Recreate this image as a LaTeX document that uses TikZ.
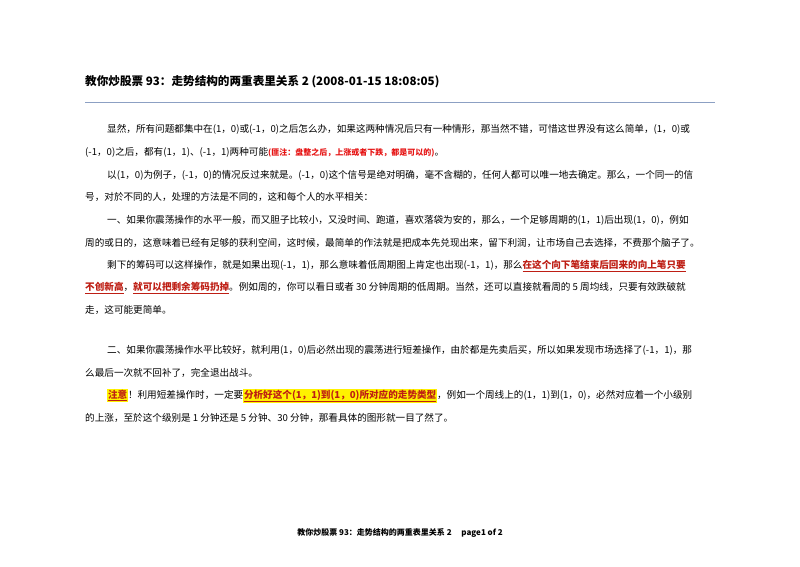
\documentclass[tikz,border=0pt]{standalone}
\usepackage{fontspec}
\setmainfont{Liberation Sans}
\newfontfamily\cjk{Noto Sans CJK SC}
\definecolor{rulec}{RGB}{140,160,195}
\definecolor{noter}{RGB}{230,20,20}
\definecolor{hlr}{RGB}{190,30,20}
\begin{document}
\begin{tikzpicture}[x=1pt,y=-1pt,
  ln/.style={anchor=west,inner sep=0pt,font=\cjk\fontsize{9.6}{11}\selectfont},
  rd/.style={font=\cjk\bfseries\fontsize{8}{10}\selectfont,text=noter}]
\newcommand{\ru}[1]{\textcolor{hlr}{\bfseries\underline{#1}}}
\newcommand{\hl}[1]{{\setlength{\fboxsep}{0.8pt}\colorbox{yellow}{\textcolor{hlr}{\bfseries\underline{#1}}}}}
\useasboundingbox (0,0) rectangle (800,566);
\fill[white] (0,0) rectangle (800,566);
\node[ln,font=\cjk\bfseries\fontsize{11.6}{13}\selectfont] (title) at (85,82) {教你炒股票 93：走势结构的两重表里关系 2 (2008-01-15 18:08:05)};
\coordinate (r1) at (85,102); \coordinate (r2) at (715,102);
\draw[rulec,line width=1pt] (r1) -- (r2);
\node[ln] (l1) at (107,129) {显然，所有问题都集中在(1，0)或(-1，0)之后怎么办，如果这两种情况后只有一种情形，那当然不错，可惜这世界没有这么简单，(1，0)或};
\node[ln] (l2) at (85,152) {(-1，0)之后，都有(1，1)、(-1，1)两种可能{\color{noter}\bfseries\fontsize{8}{10}\selectfont(匪注：盘整之后，上涨或者下跌，都是可以的)}。};
\node[ln] (l3) at (107,175) {以(1，0)为例子，(-1，0)的情况反过来就是。(-1，0)这个信号是绝对明确，毫不含糊的，任何人都可以唯一地去确定。那么，一个同一的信};
\node[ln] (l4) at (85,197) {号，对於不同的人，处理的方法是不同的，这和每个人的水平相关：};
\node[ln] (l5) at (107,220) {一、如果你震荡操作的水平一般，而又胆子比较小，又没时间、跑道，喜欢落袋为安的，那么，一个足够周期的(1，1)后出现(1，0)，例如};
\node[ln] (l6) at (85,243) {周的或日的，这意味着已经有足够的获利空间，这时候，最简单的作法就是把成本先兑现出来，留下利润，让市场自己去选择，不费那个脑子了。};
\node[ln] (l7) at (107,266) {剩下的筹码可以这样操作，就是如果出现(-1，1)，那么意味着低周期图上肯定也出现(-1，1)，那么\ru{在这个向下笔结束后回来的向上笔只要}};
\node[ln] (l8) at (85,288) {\ru{不创新高}，\ru{就可以把剩余筹码扔掉}。例如周的，你可以看日或者 30 分钟周期的低周期。当然，还可以直接就看周的 5 周均线，只要有效跌破就};
\node[ln] (l9) at (85,310) {走，这可能更简单。};
\node[ln] (l10) at (107,350) {二、如果你震荡操作水平比较好，就利用(1，0)后必然出现的震荡进行短差操作，由於都是先卖后买，所以如果发现市场选择了(-1，1)，那};
\node[ln] (l11) at (85,373) {么最后一次就不回补了，完全退出战斗。};
\node[ln] (l12) at (107,396) {\hl{注意}！利用短差操作时，一定要\hl{分析好这个(1，1)到(1，0)所对应的走势类型}，例如一个周线上的(1，1)到(1，0)，必然对应着一个小级别};
\node[ln] (l13) at (85,418) {的上涨，至於这个级别是 1 分钟还是 5 分钟、30 分钟，那看具体的图形就一目了然了。};
\node[anchor=center,inner sep=0pt,font=\cjk\bfseries\fontsize{8}{10}\selectfont] (foot) at (400,533) {教你炒股票 93：走势结构的两重表里关系 2\quad\ page1 of 2};
\end{tikzpicture}
\end{document}
